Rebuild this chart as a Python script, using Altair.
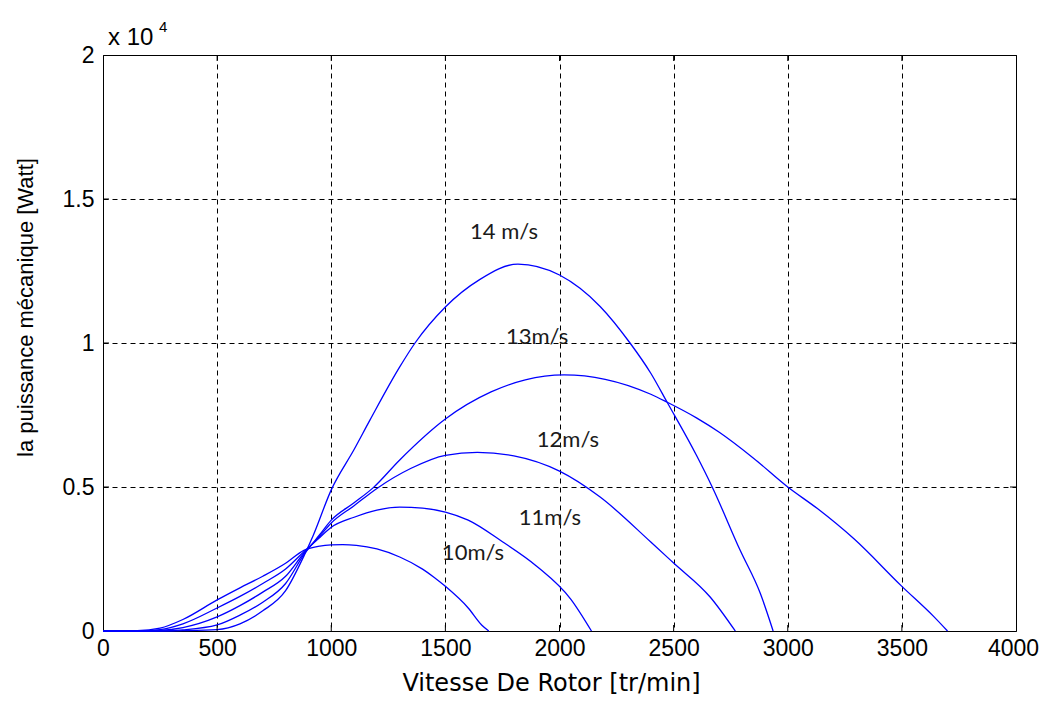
import altair as alt
import pandas as pd

# Rotor speed [tr/min] and mechanical power [W] for each wind speed
rpm10 = [0, 150, 250, 350, 500, 600, 700, 800, 880, 950, 1000, 1050, 1110, 1200, 1300, 1400, 1450, 1500, 1600, 1660, 1690]
p10 = [0, 10, 100, 400, 1080, 1500, 1900, 2350, 2800, 2950, 2990, 3000, 2975, 2850, 2570, 2150, 1870, 1550, 800, 200, 0]

rpm11 = [0, 150, 250, 350, 500, 600, 700, 800, 880, 950, 1000, 1100, 1200, 1300, 1400, 1500, 1600, 1750, 1900, 2050, 2140]
p11 = [0, 0, 50, 250, 800, 1200, 1650, 2150, 2750, 3250, 3600, 3950, 4200, 4300, 4270, 4130, 3850, 3100, 2250, 1100, 0]

rpm12 = [0, 150, 250, 350, 500, 600, 700, 800, 880, 950, 1000, 1100, 1200, 1350, 1500, 1640, 1800, 2000, 2178, 2400, 2500, 2660, 2770]
p12 = [0, 0, 20, 120, 490, 880, 1350, 1900, 2700, 3300, 3750, 4350, 4950, 5650, 6100, 6200, 6080, 5550, 4650, 3090, 2360, 1180, 0]

rpm13 = [0, 150, 250, 350, 500, 600, 700, 800, 880, 950, 1000, 1100, 1183, 1300, 1500, 1700, 1850, 2020, 2200, 2400, 2470, 2600, 2700, 2850, 3000, 3130, 3290, 3500, 3640, 3700]
p13 = [0, 0, 5, 40, 210, 550, 1000, 1650, 2650, 3350, 3850, 4450, 4970, 5940, 7360, 8300, 8720, 8890, 8740, 8220, 7950, 7400, 6900, 6000, 5000, 4250, 3200, 1550, 500, 0]

rpm14 = [0, 250, 350, 500, 600, 700, 800, 880, 920, 1000, 1100, 1170, 1300, 1367, 1500, 1650, 1818, 2000, 2090, 2178, 2309, 2400, 2471, 2600, 2669, 2791, 2880, 2936]
p14 = [0, 0, 10, 50, 250, 700, 1400, 2600, 3300, 4900, 6300, 7330, 9170, 10000, 11250, 12200, 12740, 12360, 11900, 11270, 10000, 8950, 7950, 6100, 5000, 2810, 1300, 0]

series_names = ["10m/s", "11m/s", "12m/s", "13m/s", "14m/s"]
series_rpm = [rpm10, rpm11, rpm12, rpm13, rpm14]
series_p = [p10, p11, p12, p13, p14]

# Curve labels
label_text = ["14 m/s", "13m/s", "12m/s", "11m/s", "10m/s"]
label_x = [1757, 1902, 2037, 1958, 1621]
label_y = [13854, 10208, 6632, 3924, 2708]

x_ticks = [0, 500, 1000, 1500, 2000, 2500, 3000, 3500, 4000]
y_ticks = [0, 5000, 10000, 15000, 20000]

W, H = 913, 576

rows = []
for name, rr, pp in zip(series_names, series_rpm, series_p):
    for i, (r, p) in enumerate(zip(rr, pp)):
        rows.append({"serie": name, "rpm": r, "P": p, "order": i})
df = pd.DataFrame(rows)

xscale = alt.Scale(domain=[0, 4000], nice=False, zero=False)
yscale = alt.Scale(domain=[0, 20000], nice=False, zero=False)

x_axis = alt.Axis(values=x_ticks, format="d", title="Vitesse De Rotor [tr/min]", grid=True,
                  gridDash=[5, 4], gridColor="black", gridOpacity=1, gridWidth=1,
                  domain=False, ticks=False, labelFont="Liberation Sans", labelFontSize=23,
                  labelColor="black", labelPadding=6,
                  labelOffset={"condition": {"test": "datum.value == 4000", "value": -3}, "value": 0},
                  titleFont="DejaVu Sans",
                  titleFontSize=24, titleFontWeight="normal", titleColor="black",
                  titleX=448, titleY=52, titleAlign="center", titleBaseline="middle",
                  labelFlush=False)
y_axis = alt.Axis(values=y_ticks, title="la puissance mécanique [Watt]", grid=True,
                  gridDash=[5, 4], gridColor="black", gridOpacity=1, gridWidth=1,
                  domain=False, ticks=False, labelFont="Liberation Sans", labelFontSize=23,
                  labelColor="black", labelPadding=9, labelExpr="datum.value / 10000",
                  titleFont="Liberation Sans", titleFontSize=22, titleFontWeight="normal",
                  titleColor="black", titleX=-78, titleY=252, titleAngle=270,
                  titleAlign="center", titleBaseline="middle", labelFlush=False)

lines = alt.Chart(df).mark_line(color="#0000ff", strokeWidth=1.3, interpolate="monotone").encode(
    x=alt.X("rpm:Q", scale=xscale, axis=x_axis),
    y=alt.Y("P:Q", scale=yscale, axis=y_axis),
    detail="serie:N",
    order="order:Q",
)

lab_df = pd.DataFrame({"t": label_text, "x": label_x, "y": label_y})
labels = alt.Chart(lab_df).mark_text(font="Lato", fontSize=22, color="#1a1a1a",
                                     align="center", baseline="middle").encode(
    x=alt.X("x:Q", scale=xscale),
    y=alt.Y("y:Q", scale=yscale),
    text="t:N",
)

# inward ticks (MATLAB style)
xt = pd.DataFrame({"v": x_ticks[1:-1]})
yt = pd.DataFrame({"v": y_ticks[1:-1]})
tick_style = dict(color="black", strokeWidth=1)
xt_bottom = alt.Chart(xt).mark_rule(**tick_style).encode(
    x=alt.X("v:Q", scale=xscale), y=alt.value(H), y2=alt.value(H - 6))
xt_top = alt.Chart(xt).mark_rule(**tick_style).encode(
    x=alt.X("v:Q", scale=xscale), y=alt.value(0), y2=alt.value(6))
yt_left = alt.Chart(yt).mark_rule(**tick_style).encode(
    y=alt.Y("v:Q", scale=yscale), x=alt.value(0), x2=alt.value(6))
yt_right = alt.Chart(yt).mark_rule(**tick_style).encode(
    y=alt.Y("v:Q", scale=yscale), x=alt.value(W), x2=alt.value(W - 6))

one = pd.DataFrame({"a": [0]})
exp_base = alt.Chart(one).mark_text(font="Liberation Sans", fontSize=24, color="black",
                                    align="left", baseline="middle").encode(
    x=alt.value(5), y=alt.value(-17), text=alt.value("x 10"))
exp_pow = alt.Chart(one).mark_text(font="Liberation Sans", fontSize=15, color="black",
                                   align="left", baseline="middle").encode(
    x=alt.value(56), y=alt.value(-28), text=alt.value("4"))

chart = alt.layer(lines, labels, xt_bottom, xt_top, yt_left, yt_right, exp_base, exp_pow).properties(
    width=W, height=H,
    autosize=alt.AutoSizeParams(type="none"),
    padding={"left": 95, "top": 47, "right": 24, "bottom": 69},
    background="white",
).configure_view(stroke="black", strokeWidth=1)

chart.save("out.html", embed_options={"renderer": "svg", "actions": False})
